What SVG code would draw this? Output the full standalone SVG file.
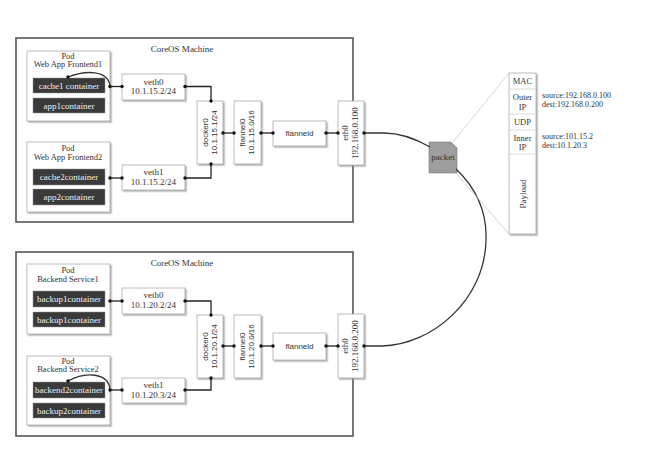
<svg xmlns="http://www.w3.org/2000/svg" width="652" height="460" viewBox="0 0 652 460">
<defs>
<filter id="ds" x="-20%" y="-20%" width="140%" height="140%"><feDropShadow dx="1.5" dy="1.5" stdDeviation="0.7" flood-color="#888" flood-opacity="0.6"/></filter>
<style>
.machine{fill:#fff;stroke:#555;stroke-width:1.6}
.node{fill:#fff;stroke:#aaa;stroke-width:0.8;filter:url(#ds)}
.pod{fill:#fff;stroke:#aaa;stroke-width:0.8;filter:url(#ds)}
.ctr{fill:#3a3a3a;stroke:#999;stroke-width:0.5}
.t{font-family:"Liberation Serif","DejaVu Serif",serif;font-size:9px;fill:#333;text-anchor:middle}
.p{font-family:"Liberation Serif","DejaVu Serif",serif;font-size:8.5px;fill:#333;text-anchor:middle}
.s{font-family:"Liberation Sans","DejaVu Sans",sans-serif;font-size:8px;fill:#333;text-anchor:middle}
.w{font-family:"Liberation Serif","DejaVu Serif",serif;font-size:9px;fill:#eee;text-anchor:middle}
.l{font-family:"Liberation Serif","DejaVu Serif",serif;font-size:8px;fill:#333;text-anchor:start}
.c{fill:none;stroke:#222;stroke-width:1.3}
.cv{fill:none;stroke:#333;stroke-width:1.3}
.g{fill:none;stroke:#ccc;stroke-width:0.8}
.d{fill:#111}
.row{fill:none;stroke:#ccc;stroke-width:0.7}
</style>
</defs>
<rect width="652" height="460" fill="#fff"/>

<!-- machines -->
<g id="machine1">
<rect class="machine" x="16" y="38" width="337" height="184"/>
<text class="t" x="182" y="52">CoreOS Machine</text>
</g>
<g id="machine2">
<rect class="machine" x="16" y="252" width="337" height="184"/>
<text class="t" x="182" y="266">CoreOS Machine</text>
</g>

<!-- top machine nodes -->
<g id="pod1">
<rect class="pod" x="27" y="51" width="83" height="70"/>
<text class="p" x="68" y="58.5">Pod</text>
<text class="p" x="68" y="67">Web App Frontend1</text>
<rect class="ctr" x="33" y="78" width="72" height="15"/>
<text class="w" x="69" y="88.5">cache1 container</text>
<rect class="ctr" x="33" y="98" width="72" height="15"/>
<text class="w" x="69" y="108.5">app1container</text>
</g>
<g id="pod2">
<rect class="pod" x="27" y="142" width="83" height="70"/>
<text class="p" x="68" y="150.5">Pod</text>
<text class="p" x="68" y="160">Web App Frontend2</text>
<rect class="ctr" x="33" y="169" width="72" height="16"/>
<text class="w" x="69" y="180">cache2container</text>
<rect class="ctr" x="33" y="189" width="72" height="16"/>
<text class="w" x="69" y="200">app2container</text>
</g>
<g id="veth0-a">
<rect class="node" x="122" y="74" width="63" height="26"/>
<text class="t" x="153.5" y="84.5">veth0</text>
<text class="t" x="153.5" y="94">10.1.15.2/24</text>
</g>
<g id="veth1-a">
<rect class="node" x="122" y="165" width="63" height="25"/>
<text class="t" x="153.5" y="175">veth1</text>
<text class="t" x="153.5" y="184.5">10.1.15.2/24</text>
</g>
<g id="docker0-a">
<rect class="node" x="197" y="101" width="26" height="63"/>
<text class="s" transform="translate(208 132.5) rotate(-90)">docker0</text>
<text class="s" transform="translate(217 132.5) rotate(-90)">10.1.15.1/24</text>
</g>
<g id="flannel0-a">
<rect class="node" x="234" y="101" width="27" height="63"/>
<text class="s" transform="translate(245 132.5) rotate(-90)">flannel0</text>
<text class="s" transform="translate(254 132.5) rotate(-90)">10.1.15.0/16</text>
</g>
<g id="flanneld-a">
<rect class="node" x="273" y="121" width="53" height="25"/>
<text class="s" x="299.5" y="136">flanneld</text>
</g>
<g id="eth0-a">
<rect class="node" x="338" y="101" width="26" height="64"/>
<text class="t" transform="translate(348 133) rotate(-90)">eth0</text>
<text class="t" transform="translate(357.5 133) rotate(-90)">192.168.0.100</text>
</g>

<!-- bottom machine nodes -->
<g id="pod3">
<rect class="pod" x="27" y="264" width="83" height="70"/>
<text class="p" x="68" y="272.5">Pod</text>
<text class="p" x="68" y="282">Backend Service1</text>
<rect class="ctr" x="33" y="291" width="72" height="16"/>
<text class="w" x="69" y="302">backup1container</text>
<rect class="ctr" x="33" y="312" width="72" height="15"/>
<text class="w" x="69" y="322.5">backup1container</text>
</g>
<g id="pod4">
<rect class="pod" x="27" y="356" width="83" height="69"/>
<text class="p" x="68" y="363.5">Pod</text>
<text class="p" x="68" y="372">Backend Service2</text>
<rect class="ctr" x="33" y="382" width="72" height="16"/>
<text class="w" x="69" y="393">backend2container</text>
<rect class="ctr" x="33" y="403" width="72" height="15"/>
<text class="w" x="69" y="413.5">backup2container</text>
</g>
<g id="veth0-b">
<rect class="node" x="122" y="288" width="63" height="26"/>
<text class="t" x="153.5" y="298">veth0</text>
<text class="t" x="153.5" y="307.5">10.1.20.2/24</text>
</g>
<g id="veth1-b">
<rect class="node" x="122" y="378" width="63" height="25"/>
<text class="t" x="153.5" y="388">veth1</text>
<text class="t" x="153.5" y="397.5">10.1.20.3/24</text>
</g>
<g id="docker0-b">
<rect class="node" x="197" y="315" width="26" height="63"/>
<text class="s" transform="translate(208 346.5) rotate(-90)">docker0</text>
<text class="s" transform="translate(217 346.5) rotate(-90)">10.1.20.1/24</text>
</g>
<g id="flannel0-b">
<rect class="node" x="234" y="315" width="27" height="63"/>
<text class="s" transform="translate(245 346.5) rotate(-90)">flannel0</text>
<text class="s" transform="translate(254 346.5) rotate(-90)">10.1.20.0/16</text>
</g>
<g id="flanneld-b">
<rect class="node" x="273" y="333" width="53" height="27"/>
<text class="s" x="299.5" y="349">flanneld</text>
</g>
<g id="eth0-b">
<rect class="node" x="338" y="314" width="26" height="64"/>
<text class="t" transform="translate(348 346) rotate(-90)">eth0</text>
<text class="t" transform="translate(357.5 346) rotate(-90)">192.168.0.200</text>
</g>

<!-- packet -->
<g id="packet">
<path d="M429 142 H451 L457 148 V173 H429 Z" fill="#9e9e9e" stroke="#777" stroke-width="0.6"/>
<text class="t" x="443" y="160" style="font-size:9px">packet</text>
</g>

<g id="packet-format">
<rect class="node" x="509" y="73" width="27" height="161"/>
<path class="row" d="M510 89 H535 M510 114 H535 M510 130 H535 M510 154 H535"/>
<text class="p" x="522.5" y="84">MAC</text>
<text class="p" x="522.5" y="100">Outer</text>
<text class="p" x="522.5" y="109.5">IP</text>
<text class="p" x="522.5" y="125">UDP</text>
<text class="p" x="522.5" y="140.5">Inner</text>
<text class="p" x="522.5" y="150">IP</text>
<text class="t" transform="translate(525.5 194) rotate(-90)">Payload</text>
<text class="l" x="542" y="97.5">source:192.168.0.100</text>
<text class="l" x="542" y="106.5">dest:192.168.0.200</text>
<text class="l" x="542" y="138.5">source:101.15.2</text>
<text class="l" x="542" y="147.5">dest:10.1.20.3</text>
</g>

<!-- connectors -->
<g id="connectors">
<path class="c" d="M110 86.5 H122"/>
<path class="c" d="M185 86.5 H211 V101"/>
<path class="c" d="M110 178 H122"/>
<path class="c" d="M185 178 H211 V164"/>
<path class="c" d="M223 133 H234"/>
<path class="c" d="M261 133 H273"/>
<path class="c" d="M326 133 H338"/>
<path class="cv" d="M110 86 C108 70 86 70 68 77"/>

<path class="c" d="M110 301 H122"/>
<path class="c" d="M185 301 H211 V315"/>
<path class="c" d="M110 390 H122"/>
<path class="c" d="M185 390 H211 V378"/>
<path class="c" d="M223 346 H234"/>
<path class="c" d="M261 346 H273"/>
<path class="c" d="M326 346 H338"/>
<path class="cv" d="M110 389 C108 373 86 371 68 381"/>

<path class="cv" d="M364 133 L384 133 C400 133 416 139 430 147"/>
<path class="cv" d="M456 169 C478 190 487 215 486 240 C485 300 432 345 382 346 L364 346"/>
<path class="g" d="M453 142 L509 73"/>
<path class="g" d="M456 173 L509 234"/>

<g class="d">
<circle cx="110" cy="86.5" r="1.7"/><circle cx="122" cy="86.5" r="1.7"/>
<circle cx="185" cy="86.5" r="1.7"/><circle cx="211" cy="101" r="1.7"/>
<circle cx="110" cy="178" r="1.7"/><circle cx="122" cy="178" r="1.7"/>
<circle cx="185" cy="178" r="1.7"/><circle cx="211" cy="164" r="1.7"/>
<circle cx="223" cy="133" r="1.7"/><circle cx="234" cy="133" r="1.7"/>
<circle cx="261" cy="133" r="1.7"/><circle cx="273" cy="133" r="1.7"/>
<circle cx="326" cy="133" r="1.7"/><circle cx="338" cy="133" r="1.7"/>
<circle cx="364" cy="133" r="1.7"/><circle cx="68" cy="77" r="1.7"/>

<circle cx="110" cy="301" r="1.7"/><circle cx="122" cy="301" r="1.7"/>
<circle cx="185" cy="301" r="1.7"/><circle cx="211" cy="315" r="1.7"/>
<circle cx="110" cy="390" r="1.7"/><circle cx="122" cy="390" r="1.7"/>
<circle cx="185" cy="390" r="1.7"/><circle cx="211" cy="378" r="1.7"/>
<circle cx="223" cy="346" r="1.7"/><circle cx="234" cy="346" r="1.7"/>
<circle cx="261" cy="346" r="1.7"/><circle cx="273" cy="346" r="1.7"/>
<circle cx="326" cy="346" r="1.7"/><circle cx="338" cy="346" r="1.7"/>
<circle cx="364" cy="346" r="1.7"/><circle cx="68" cy="381" r="1.7"/>
</g>
</g>
</svg>
